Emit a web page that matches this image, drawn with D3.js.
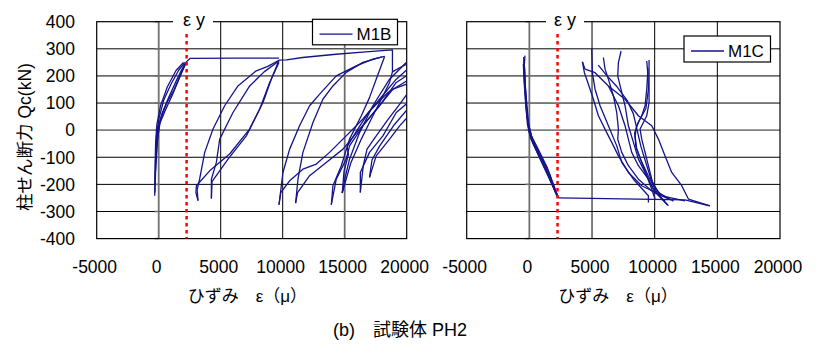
<!DOCTYPE html>
<html><head><meta charset="utf-8">
<script src="https://cdn.jsdelivr.net/npm/d3@7"></script>
<style>
html,body{margin:0;padding:0;background:#fff;}
text{font-family:"Liberation Sans","Noto Sans CJK JP",sans-serif;fill:#000;}
</style></head>
<body><svg id="c" width="817" height="344"></svg>
<script>
// ---- data ----
const xTicks = [-5000, 0, 5000, 10000, 15000, 20000];
const yTicks = [-400, -300, -200, -100, 0, 100, 200, 300, 400];
const yieldStrain = 2250;
const seriesNames = ["M1B", "M1C"];

// M1B (left panel) polylines [strain, shear]
const m1bElastic1 = [[-320,-242],[-300,-150],[-250,-50],[-150,20],[150,90],[700,160],[1400,220],[2000,250]];
const m1bElastic2 = [[-280,-200],[-220,-100],[-100,0],[250,60],[800,120],[1500,190],[2100,245]];
const m1bElastic3 = [[-250,-150],[-150,-60],[50,20],[500,70],[1100,130],[1700,195],[2230,252]];
const m1bElastic4 = [[-200,-120],[-120,-40],[150,40],[650,100],[1250,150],[1850,215],[2230,250]];
const m1bElastic5 = [[-300,-230],[-260,-120],[-180,-20],[0,40],[400,110],[1000,170],[1600,220],[2100,250]];
const m1bPlateau = [[2230,252],[2550,265],[6000,266],[9700,266]];
const m1bLoop1a = [[9700,258],[8800,235],[7870,219],[6390,163],[5320,90],[4380,4],[3710,-82],[3300,-181],[3100,-220],[3170,-260]];
const m1bLoop1b = [[3170,-260],[3000,-230],[3040,-205],[4110,-150],[5720,-88],[7330,4],[8410,102],[9080,188],[9700,258]];
const m1bLoop1c = [[9700,255],[8500,215],[7340,163],[5990,65],[4920,-33],[4650,-119],[4250,-181],[4250,-252]];
const m1bLoop1d = [[4250,-252],[4300,-190],[5590,-107],[7070,-21],[8140,77],[8950,176],[9700,250]];
const m1bEnvelope = [[9700,258],[10300,259],[11600,268],[14300,280],[16700,289],[18850,296],[18850,215],[19500,232],[20300,250]];
const m1bArc1 = [[9700,-275],[10020,-156],[10560,-70],[11360,16],[12170,90],[12980,133],[14320,200],[15930,237],[17270,262],[18220,272]];
const m1bArc2 = [[11040,-269],[11230,-181],[11630,-82],[12440,28],[13240,114],[14050,163],[15120,213],[16470,250],[18000,270]];
const m1bDown1 = [[18220,272],[17540,188],[17000,120],[16340,53],[15390,-33],[14720,-132],[14050,-205],[13920,-275]];
const m1bUp1 = [[13920,-275],[14320,-181],[15120,-107],[15390,-58],[16470,16],[17800,90],[18890,151],[20300,175]];
const m1bDown2 = [[20300,235],[19160,188],[17810,114],[16470,41],[15120,-21],[13780,-82],[12710,-125],[11630,-144],[10560,-187],[9850,-230],[9700,-275]];
const m1bDown3 = [[20300,210],[19160,176],[17810,90],[16200,4],[14860,-70],[13510,-119],[12170,-168],[11200,-230],[11040,-269]];
const m1bDown4 = [[20300,265],[18620,188],[17270,90],[16200,-9],[15390,-107],[15000,-181],[14800,-232]];
const m1bUp2 = [[14800,-232],[14950,-150],[15300,-90],[15200,-60],[16000,0],[17000,70],[18500,140],[20300,190]];
const m1bUp3 = [[16260,-230],[16260,-156],[17000,-82],[18080,-21],[19160,65],[20300,110]];
const m1bUp4 = [[17000,-174],[17540,-95],[18620,-33],[19430,16],[20300,60]];
const m1bDown5 = [[20300,150],[19500,100],[18500,40],[17400,-30],[16800,-70],[16500,-130],[16260,-230]];
const m1bDown6 = [[20300,90],[19000,20],[17800,-60],[17200,-110],[17000,-174]];
const m1bDown7 = [[18850,215],[18620,176],[17950,114],[17000,28],[16340,-33],[15500,-120],[14800,-232]];

// M1C (right panel)
const m1cElastic1 = [[-350,275],[-400,240],[-350,180],[-250,100],[-150,40],[0,-10],[300,-50],[800,-100],[1500,-165],[2186,-242],[2314,-250]];
const m1cElastic2 = [[-480,245],[-420,180],[-300,100],[-150,20],[100,-30],[600,-80],[1200,-140],[1800,-200],[2250,-245]];
const m1cElastic3 = [[-420,260],[-380,200],[-250,120],[-50,20],[250,-35],[900,-95],[1600,-160],[2100,-230]];
const m1cElastic4 = [[-380,230],[-320,150],[-200,60],[0,0],[400,-55],[1000,-110],[1700,-180],[2250,-240]];
const m1cElastic5 = [[-450,270],[-430,210],[-330,130],[-200,50],[150,-20],[700,-70],[1400,-135],[2000,-210],[2300,-248]];
const m1cPlateau = [[2314,-250],[3647,-251],[12420,-257],[14380,-279]];
const m1cC1 = [[4232,252],[4392,212],[4711,169],[5110,114],[5509,53],[6174,-9],[6573,-45],[7105,-95],[7903,-156],[8967,-205],[10563,-242],[12425,-261]];
const m1cC2 = [[4977,299],[5030,212],[5243,151],[5642,90],[6307,16],[6972,-58],[7371,-119],[8302,-181],[9499,-242],[9499,-267]];
const m1cC3 = [[5908,268],[6041,225],[6307,188],[6706,126],[6972,65],[7105,4],[7052,-33],[7371,-82],[7903,-131],[8701,-181],[9765,-224],[11095,-254]];
const m1cC4 = [[7318,292],[7105,249],[7052,200],[7371,139],[7637,90],[7903,16],[8302,-45],[8701,-107],[9233,-156],[9898,-218],[11095,-279]];
const m1cC5 = [[9366,255],[9446,212],[9366,151],[9233,90],[8967,53],[8568,16],[8435,-21],[8568,-70],[8967,-119],[9366,-168],[9765,-218],[10031,-254]];
const m1cC6 = [[9552,259],[9552,188],[9552,102],[9366,53],[9100,28],[8834,4],[8967,-33],[9233,-82],[9632,-156],[9898,-205],[10563,-242]];
const m1cC7 = [[4232,252],[4445,225],[5243,212],[6307,163],[7637,114],[8701,53],[9765,16],[10297,-33],[10829,-95],[11361,-156],[12159,-205],[12691,-254],[14420,-279]];
const m1cC8 = [[6307,163],[7105,90],[7637,16],[7903,-33],[8169,-82],[8701,-131],[9499,-181],[10031,-230],[10829,-261]];
const m1cC9 = [[5500,240],[6200,200],[7000,160],[7800,110],[8300,60],[8600,0],[8900,-60],[9300,-120],[9700,-180],[10300,-230],[11500,-262]];
const m1cC10 = [[9450,230],[9500,150],[9300,80],[8700,30],[8400,-10],[8500,-60],[8900,-110],[9500,-170],[10300,-240],[11000,-275]];

const m1bCurves = [m1bElastic1,m1bElastic2,m1bElastic3,m1bElastic4,m1bElastic5,m1bPlateau,m1bLoop1a,m1bLoop1b,m1bLoop1c,m1bLoop1d,m1bEnvelope,m1bArc1,m1bArc2,m1bDown1,m1bUp1,m1bDown2,m1bDown3,m1bDown4,m1bUp2,m1bUp3,m1bUp4,m1bDown5,m1bDown6,m1bDown7];
const m1cCurves = [m1cElastic1,m1cElastic2,m1cElastic3,m1cElastic4,m1cElastic5,m1cPlateau,m1cC1,m1cC2,m1cC3,m1cC4,m1cC5,m1cC6,m1cC7,m1cC8,m1cC9,m1cC10];

// ---- drawing ----
const svg = d3.select("#c");
const plotTop = 21.7, plotBottom = 238.6;
const panels = [
  {x0:96.7, x1:406.7, curves:m1bCurves, name:seriesNames[0], showY:true, gray15:true,
   legend:{x:312.5, y:19.3, w:85, h:25.5}, eyCenter:194, eyBg:[173,213]},
  {x0:466.7, x1:780, curves:m1cCurves, name:seriesNames[1], showY:false, gray15:false,
   legend:{x:684, y:36, w:86.5, h:26}, eyCenter:565, eyBg:[546,584]}
];
const y = d3.scaleLinear().domain([-400,400]).range([plotBottom, plotTop]);
const navy = "#14148a";

panels.forEach((p, i) => {
  const x = d3.scaleLinear().domain([-5000,20000]).range([p.x0, p.x1]);
  const g = svg.append("g");
  yTicks.forEach(t => {
    if (t === 400 || t === -400) return;
    g.append("line").attr("x1", p.x0).attr("x2", p.x1)
      .attr("y1", y(t)).attr("y2", y(t))
      .attr("stroke", t === 0 ? "#808080" : "#000")
      .attr("stroke-width", t === 0 ? 1.8 : 1);
  });
  xTicks.forEach(t => {
    if (t === -5000 || t === 20000) return;
    const gray = t === 0 || (t === 15000 && p.gray15);
    g.append("line").attr("y1", plotTop).attr("y2", plotBottom)
      .attr("x1", x(t)).attr("x2", x(t))
      .attr("stroke", gray ? "#707070" : "#000")
      .attr("stroke-width", gray ? 1.8 : 1);
  });
  yTicks.forEach(t => {
    g.append("line").attr("x1", x(0) - 4).attr("x2", x(0))
      .attr("y1", y(t)).attr("y2", y(t)).attr("stroke", "#707070").attr("stroke-width", 1.5);
  });
  g.append("rect").attr("x", p.x0).attr("y", plotTop).attr("width", p.x1 - p.x0).attr("height", plotBottom - plotTop)
    .attr("fill", "none").attr("stroke", "#000").attr("stroke-width", 1.2);

  const cid = "clip" + i;
  svg.append("clipPath").attr("id", cid).append("rect")
    .attr("x", p.x0).attr("y", plotTop).attr("width", p.x1 - p.x0).attr("height", plotBottom - plotTop);
  const line = d3.line().x(d => x(d[0])).y(d => y(d[1]));
  const cg = svg.append("g").attr("clip-path", `url(#${cid})`);
  p.curves.forEach(c => {
    cg.append("path").attr("d", line(c)).attr("fill", "none")
      .attr("stroke", navy).attr("stroke-width", 1.3).attr("stroke-linejoin", "round");
  });

  svg.append("line").attr("x1", x(yieldStrain)).attr("x2", x(yieldStrain))
    .attr("y1", 34).attr("y2", plotBottom)
    .attr("stroke", "#ff0000").attr("stroke-width", 2.5).attr("stroke-dasharray", "3.5,3.5");
  svg.append("rect").attr("x", p.eyBg[0]).attr("y", 10).attr("width", p.eyBg[1] - p.eyBg[0]).attr("height", 20).attr("fill", "#fff");
  svg.append("text").attr("x", p.eyCenter).attr("y", 26).attr("text-anchor", "middle")
    .style("font-size", "18px").text("ε y");

  xTicks.forEach(t => {
    svg.append("text").attr("x", x(t) - 2).attr("y", 273).attr("text-anchor", "middle")
      .style("font-size", "17.5px").text(t);
  });
  if (p.showY) {
    yTicks.forEach(t => {
      svg.append("text").attr("x", 75).attr("y", y(t)).attr("dy", "0.36em").attr("text-anchor", "end")
        .style("font-size", "17.5px").text(t);
    });
  }
  svg.append("text").attr("x", x(0) + 29).attr("y", 302).style("font-size", "17px")
    .text("ひずみ　ε（μ）");

  const L = p.legend;
  svg.append("rect").attr("x", L.x).attr("y", L.y).attr("width", L.w).attr("height", L.h)
    .attr("fill", "#fff").attr("stroke", "#000").attr("stroke-width", 1.2);
  svg.append("line").attr("x1", L.x + 7).attr("x2", L.x + 40).attr("y1", L.y + L.h / 2 + 2).attr("y2", L.y + L.h / 2 + 2)
    .attr("stroke", navy).attr("stroke-width", 1.3);
  svg.append("text").attr("x", L.x + 44).attr("y", L.y + L.h / 2 + 2).attr("dy", "0.36em")
    .style("font-size", "17px").text(p.name);
});

svg.append("text").attr("transform", "translate(31,137) rotate(-90)").attr("text-anchor", "middle")
  .style("font-size", "17.5px").text("柱せん断力 Qc(kN)");
svg.append("text").attr("x", 333).attr("y", 336).style("font-size", "18px").text("(b)　試験体 PH2");
</script></body></html>
